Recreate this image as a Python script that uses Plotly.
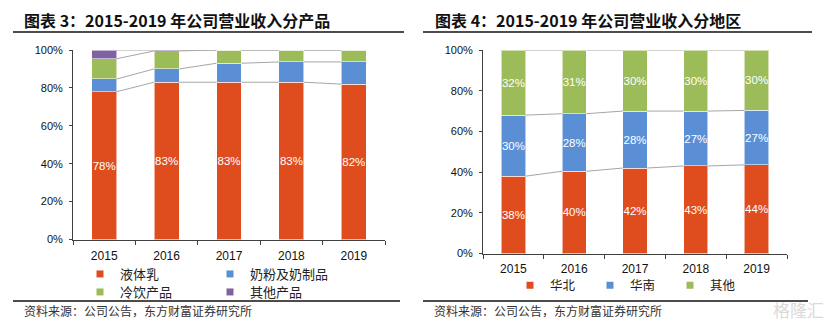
import plotly.graph_objects as go

W, H = 832, 326

years = ["2015", "2016", "2017", "2018", "2019"]

# Revenue split by product (%)
prod_names = ["液体乳", "奶粉及奶制品", "冷饮产品", "其他产品"]
liquid_milk = [78, 83, 83, 83, 82]
milk_powder = [6.7, 7.0, 10.0, 10.7, 11.7]
frozen_drinks = [10.7, 9.5, 7.0, 6.3, 6.3]
other_products = [4.6, 0.5, 0.0, 0.0, 0.0]

# Revenue split by region (%)
region_names = ["华北", "华南", "其他"]
north = [38, 40, 42, 43, 44]
south = [30, 28, 28, 27, 27]
other_regions = [32, 31, 30, 30, 30]

y_ticks = [0, 20, 40, 60, 80, 100]

RED, BLUE, GREEN, PURPLE = "#DF4D1F", "#5A8FD6", "#9CBB59", "#7F63A1"
CONNECT = "#A6A6A6"
AXIS = "#404040"
SANS = "Liberation Sans, Arial, sans-serif"
CJK = "Noto Sans CJK SC, sans-serif"
BAR_W = 0.4

def px_x(p):
    return p / W

def px_y(p):
    return 1 - p / H

fig = go.Figure()
xs = list(range(len(years)))

def add_stack(series, names, colors, xa, ya, labelled):
    totals = [sum(v) for v in zip(*series)]
    cum = [0.0] * len(years)
    tops = []
    for vals, name, col, lab in zip(series, names, colors, labelled):
        fig.add_trace(go.Bar(
            x=xs, y=vals, name=name, width=BAR_W, xaxis=xa, yaxis=ya,
            marker=dict(color=col, line=dict(color="rgba(255,255,255,0.55)", width=1)),
            text=[f"{v:g}%" for v in vals] if lab else None,
            textposition="inside" if lab else "none",
            insidetextanchor="middle", constraintext="none", textangle=0,
            textfont=dict(color="white", size=11.5, family=SANS),
            showlegend=False, hoverinfo="skip",
        ))
        cum = [c + v / t * 100 for c, v, t in zip(cum, vals, totals)]
        tops.append(list(cum))
    # series lines joining the segment tops of neighbouring bars
    for top in tops:
        lx, ly = [], []
        for i in range(len(years) - 1):
            lx += [i + BAR_W / 2, i + 1 - BAR_W / 2, None]
            ly += [top[i], top[i + 1], None]
        fig.add_trace(go.Scatter(x=lx, y=ly, mode="lines", xaxis=xa, yaxis=ya,
                                 line=dict(color=CONNECT, width=1),
                                 showlegend=False, hoverinfo="skip"))

add_stack([liquid_milk, milk_powder, frozen_drinks, other_products], prod_names,
          [RED, BLUE, GREEN, PURPLE], "x", "y", [True, False, False, False])
add_stack([north, south, other_regions], region_names,
          [RED, BLUE, GREEN], "x2", "y2", [True, True, True])

# legend entries
def legend_entry(name, color, legend):
    fig.add_trace(go.Scatter(x=[None], y=[None], mode="markers", name=name,
                             marker=dict(symbol="square", size=7, color=color),
                             legend=legend, xaxis="x", yaxis="y", showlegend=True))

legend_entry(prod_names[0], RED, "legend")
legend_entry(prod_names[1], BLUE, "legend")
legend_entry(prod_names[2], GREEN, "legend2")
legend_entry(prod_names[3], PURPLE, "legend2")
legend_entry(region_names[0], RED, "legend3")
legend_entry(region_names[1], BLUE, "legend3")
legend_entry(region_names[2], GREEN, "legend3")

leg_common = dict(orientation="h", bgcolor="rgba(0,0,0,0)", itemwidth=30,
                  xanchor="left", yanchor="middle", entrywidthmode="pixels",
                  traceorder="normal", tracegroupgap=0, itemclick=False)
leg_font = dict(family=CJK, size=13, color="#222222")

def x_axis(domain, anchor, standoff):
    return dict(domain=domain, anchor=anchor, range=[-0.5, 4.5],
                tickvals=xs, ticktext=years, ticks="", ticklabelstandoff=standoff,
                tickfont=dict(family=SANS, size=12, color="#111111"),
                showline=True, linecolor=AXIS, linewidth=1, showgrid=False,
                zeroline=False, fixedrange=True,
                minor=dict(tickvals=[i - 0.5 for i in range(len(years) + 1)],
                           ticks="outside", ticklen=4, tickcolor=AXIS, tickwidth=1))

def y_axis(domain, anchor):
    return dict(domain=domain, anchor=anchor, range=[0, 100],
                tickvals=y_ticks, ticktext=[f"{t}%" for t in y_ticks],
                ticks="outside", ticklen=3, tickcolor=AXIS, ticklabelstandoff=4,
                tickfont=dict(family=SANS, size=11, color="#111111"),
                showline=True, linecolor=AXIS, linewidth=1, showgrid=False,
                zeroline=False, fixedrange=True)

fig.update_layout(
    width=W, height=H, margin=dict(l=0, r=0, t=0, b=0, autoexpand=False),
    paper_bgcolor="white", plot_bgcolor="white",
    barmode="stack", barnorm="percent",
    xaxis=x_axis([px_x(73), px_x(385)], "y", 5),
    yaxis=y_axis([px_y(239.5), px_y(50)], "x"),
    xaxis2=x_axis([px_x(483), px_x(787)], "y2", 4),
    yaxis2=y_axis([px_y(253.5), px_y(50)], "x2"),
    legend=dict(**leg_common, font=leg_font, x=px_x(80), y=px_y(274), entrywidth=85),
    legend2=dict(**leg_common, font=leg_font, x=px_x(80), y=px_y(292), entrywidth=85),
    legend3=dict(**leg_common, font=dict(leg_font, size=12.5),
                 x=px_x(510), y=px_y(285.5), entrywidth=35),
)

# panel titles, rules and source notes
titles = ["图表 3：2015-2019 年公司营业收入分产品", "图表 4：2015-2019 年公司营业收入分地区"]
source = "资料来源：公司公告，东方财富证券研究所"
for tx, title, (lx0, lx1), sx in [(22, titles[0], (13, 404), 22), (433, titles[1], (423, 812), 432)]:
    fig.add_annotation(x=px_x(tx), y=px_y(20), xref="paper", yref="paper",
                       xanchor="left", yanchor="middle", showarrow=False,
                       text=f"<b>{title}</b>",
                       font=dict(family=CJK, size=16, color="#111111"))
    fig.add_shape(type="line", xref="paper", yref="paper",
                  x0=px_x(lx0), x1=px_x(lx1), y0=px_y(32), y1=px_y(32),
                  line=dict(color="#111111", width=1.5))
    fig.add_shape(type="line", xref="paper", yref="paper",
                  x0=px_x(lx0), x1=px_x(lx1 - 4), y0=px_y(301), y1=px_y(301),
                  line=dict(color="#111111", width=1.5))
    fig.add_annotation(x=px_x(sx), y=px_y(310), xref="paper", yref="paper",
                       xanchor="left", yanchor="middle", showarrow=False,
                       text=source, font=dict(family=CJK, size=12, color="#333333"))

fig.add_annotation(x=px_x(826), y=px_y(309), xref="paper", yref="paper",
                   xanchor="right", yanchor="middle", showarrow=False,
                   text="格隆汇", font=dict(family=CJK, size=17, color="#DADADA"))

fig.write_html("out.html")
